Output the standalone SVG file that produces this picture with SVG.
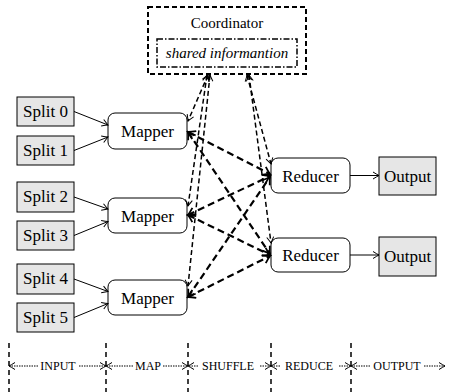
<svg xmlns="http://www.w3.org/2000/svg" width="449" height="392" viewBox="0 0 449 392" font-family="Liberation Serif">
  <style>
    .split { fill: #e6e6e6; stroke: #000; stroke-width: 1; }
    .task { fill: #fff; stroke: #000; stroke-width: 1; }
    .flow { stroke: #000; stroke-width: 1; fill: none; marker-end: url(#tip); }
    .ctrl { stroke: #000; stroke-width: 1.5; stroke-dasharray: 5 3; fill: none; marker-start: url(#tip); marker-end: url(#tip); }
    .data { stroke: #000; stroke-width: 2.2; stroke-dasharray: 7 4; fill: none; marker-start: url(#tipb); marker-end: url(#tipb); }
    .sep { stroke: #000; stroke-width: 1.5; stroke-dasharray: 5 4; }
    .dot { stroke: #000; stroke-width: 1; stroke-dasharray: 1.5 1; fill: none; marker-end: url(#tip); }
  </style>
  <defs>
    <marker id="tip" viewBox="-8 -5 10 10" refX="0" refY="0" markerWidth="10" markerHeight="10" markerUnits="userSpaceOnUse" orient="auto-start-reverse">
      <path d="M-6,-3.5 Q-2,-1 0,0 Q-2,1 -6,3.5" fill="none" stroke="#000" stroke-width="1"/>
    </marker>
    <marker id="tipb" viewBox="-10 -6 12 12" refX="0" refY="0" markerWidth="12" markerHeight="12" markerUnits="userSpaceOnUse" orient="auto-start-reverse">
      <path d="M-7,-4.5 Q-2.5,-1.2 0,0 Q-2.5,1.2 -7,4.5" fill="none" stroke="#000" stroke-width="1.8"/>
    </marker>
  </defs>

  <!-- coordinator -->
  <g id="coordinator">
    <rect x="148" y="7" width="158" height="67" fill="#fff" stroke="#000" stroke-width="2" stroke-dasharray="5 3"/>
    <text x="227" y="28" font-family="Liberation Serif" font-size="15" text-anchor="middle">Coordinator</text>
    <rect x="157" y="39" width="140" height="28" fill="none" stroke="#000" stroke-width="1.5" stroke-dasharray="6 2 1.5 2"/>
    <text x="227" y="58" font-family="Liberation Serif" font-size="15" font-style="italic" text-anchor="middle">shared informantion</text>
  </g>

  <!-- input splits -->
  <g id="split0"><rect class="split" x="17" y="97" width="57" height="29"/><text x="45.5" y="117" font-family="Liberation Serif" font-size="17" text-anchor="middle">Split 0</text></g>
  <g id="split1"><rect class="split" x="17" y="136" width="57" height="29"/><text x="45.5" y="156" font-family="Liberation Serif" font-size="17" text-anchor="middle">Split 1</text></g>
  <g id="split2"><rect class="split" x="17" y="182" width="57" height="30"/><text x="45.5" y="202" font-family="Liberation Serif" font-size="17" text-anchor="middle">Split 2</text></g>
  <g id="split3"><rect class="split" x="17" y="221" width="57" height="29"/><text x="45.5" y="241" font-family="Liberation Serif" font-size="17" text-anchor="middle">Split 3</text></g>
  <g id="split4"><rect class="split" x="17" y="264" width="57" height="30"/><text x="45.5" y="284" font-family="Liberation Serif" font-size="17" text-anchor="middle">Split 4</text></g>
  <g id="split5"><rect class="split" x="17" y="303" width="57" height="29"/><text x="45.5" y="323" font-family="Liberation Serif" font-size="17" text-anchor="middle">Split 5</text></g>

  <!-- mappers -->
  <g id="mapper0"><rect class="task" x="108" y="113" width="79" height="36" rx="7"/><text x="147.5" y="137" font-family="Liberation Serif" font-size="17" text-anchor="middle">Mapper</text></g>
  <g id="mapper1"><rect class="task" x="108" y="198" width="79" height="35" rx="7"/><text x="147.5" y="221.5" font-family="Liberation Serif" font-size="17" text-anchor="middle">Mapper</text></g>
  <g id="mapper2"><rect class="task" x="108" y="280" width="79" height="35" rx="7"/><text x="147.5" y="303.5" font-family="Liberation Serif" font-size="17" text-anchor="middle">Mapper</text></g>

  <!-- reducers -->
  <g id="reducer0"><rect class="task" x="271" y="158" width="79" height="35" rx="7"/><text x="310.5" y="181.5" font-family="Liberation Serif" font-size="17" text-anchor="middle">Reducer</text></g>
  <g id="reducer1"><rect class="task" x="271" y="238" width="79" height="34" rx="7"/><text x="310.5" y="261" font-family="Liberation Serif" font-size="17" text-anchor="middle">Reducer</text></g>

  <!-- outputs -->
  <g id="output0"><rect class="split" x="379" y="157" width="57" height="38"/><text x="407.5" y="182" font-family="Liberation Serif" font-size="17" text-anchor="middle">Output</text></g>
  <g id="output1"><rect class="split" x="379" y="237" width="57" height="39"/><text x="407.5" y="262" font-family="Liberation Serif" font-size="17" text-anchor="middle">Output</text></g>

  <!-- connectors -->
  <g id="connectors">
    <line class="flow" x1="74" y1="111.5" x2="108" y2="125"/>
    <line class="flow" x1="74" y1="150.5" x2="108" y2="137"/>
    <line class="flow" x1="74" y1="197" x2="108" y2="209"/>
    <line class="flow" x1="74" y1="235.5" x2="108" y2="221.5"/>
    <line class="flow" x1="74" y1="279" x2="108" y2="291.5"/>
    <line class="flow" x1="74" y1="317.5" x2="108" y2="303.5"/>
    <line class="flow" x1="350" y1="175.5" x2="379" y2="175.5"/>
    <line class="flow" x1="350" y1="255" x2="379" y2="255"/>

    <line class="ctrl" x1="208" y1="75" x2="188" y2="121"/>
    <line class="ctrl" x1="207" y1="75" x2="188" y2="206"/>
    <line class="ctrl" x1="210" y1="75" x2="188" y2="286"/>
    <line class="ctrl" x1="247" y1="75" x2="271" y2="164"/>
    <line class="ctrl" x1="249" y1="75" x2="271" y2="243"/>

    <line class="data" x1="188" y1="132" x2="270" y2="174"/>
    <line class="data" x1="188" y1="132" x2="270" y2="254"/>
    <line class="data" x1="188" y1="215" x2="270" y2="176"/>
    <line class="data" x1="188" y1="215" x2="270" y2="255"/>
    <line class="data" x1="188" y1="297" x2="270" y2="177"/>
    <line class="data" x1="188" y1="297" x2="270" y2="256"/>
  </g>

  <!-- phase timeline -->
  <g id="timeline">
    <line class="sep" x1="9" y1="343" x2="9" y2="392"/>
    <line class="sep" x1="106" y1="343" x2="106" y2="392"/>
    <line class="sep" x1="188" y1="343" x2="188" y2="392"/>
    <line class="sep" x1="271" y1="343" x2="271" y2="392"/>
    <line class="sep" x1="351" y1="343" x2="351" y2="392"/>

    <line class="dot" x1="38" y1="366" x2="9" y2="366"/>
    <line class="dot" x1="79" y1="366" x2="106" y2="366"/>
    <line class="dot" x1="133" y1="366" x2="106" y2="366"/>
    <line class="dot" x1="163" y1="366" x2="188" y2="366"/>
    <line class="dot" x1="198" y1="366" x2="188" y2="366"/>
    <line class="dot" x1="260" y1="366" x2="271" y2="366"/>
    <line class="dot" x1="280" y1="366" x2="271" y2="366"/>
    <line class="dot" x1="339" y1="366" x2="351" y2="366"/>
    <line class="dot" x1="370" y1="366" x2="351" y2="366"/>
    <line class="dot" x1="424" y1="366" x2="445" y2="366"/>

    <text x="58" y="370" font-family="Liberation Serif" font-size="12" text-anchor="middle">INPUT</text>
    <text x="148" y="370" font-family="Liberation Serif" font-size="12" text-anchor="middle">MAP</text>
    <text x="228" y="370" font-family="Liberation Serif" font-size="12" text-anchor="middle">SHUFFLE</text>
    <text x="309" y="370" font-family="Liberation Serif" font-size="12" text-anchor="middle">REDUCE</text>
    <text x="397" y="370" font-family="Liberation Serif" font-size="12" text-anchor="middle">OUTPUT</text>
  </g>
</svg>
